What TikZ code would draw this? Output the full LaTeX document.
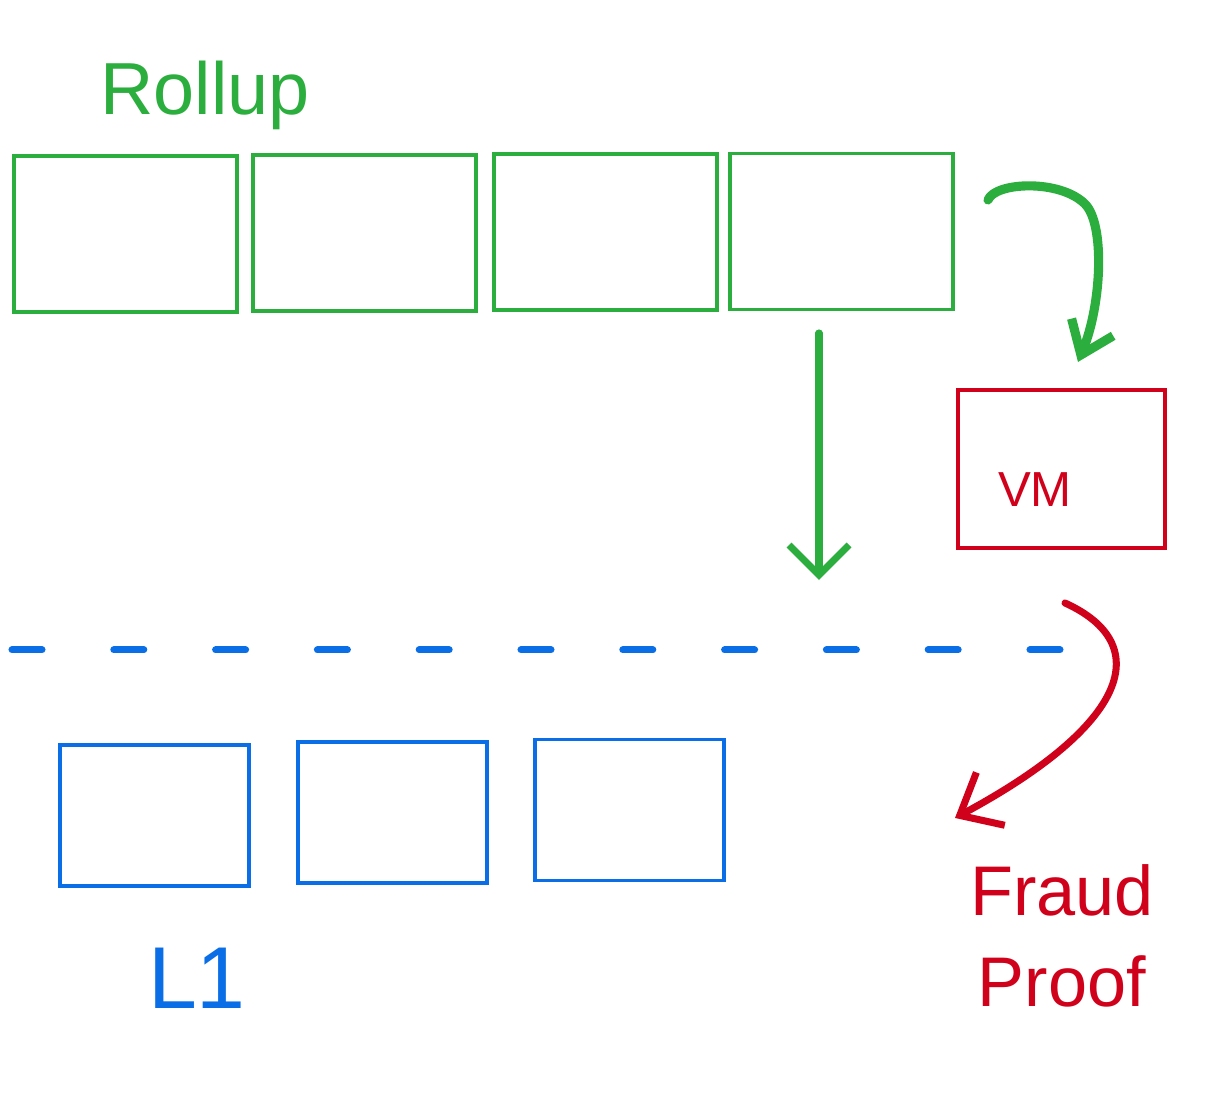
\documentclass[tikz,border=0pt]{standalone}
\usepackage{fontspec}
\setmainfont{Liberation Sans}
\usepackage{tikz}
\usetikzlibrary{arrows.meta}
\definecolor{rollupgreen}{RGB}{43,174,61}
\definecolor{layerblue}{RGB}{10,110,230}
\definecolor{fraudred}{RGB}{208,2,27}
\tikzset{
    rollupblock/.style={draw=rollupgreen, line width=0.9pt, minimum width=2.23cm, minimum height=1.56cm, inner sep=0pt},
    lblock/.style={draw=layerblue, line width=0.9pt, minimum width=1.89cm, minimum height=1.41cm, inner sep=0pt},
    vmbox/.style={draw=fraudred, line width=0.9pt, minimum width=2.07cm, minimum height=1.58cm, inner sep=0pt},
    flowarrow/.style={line width=2pt, line cap=round, line join=round, -{Straight Barb[length=3mm, width=6mm]}},
    handlabel/.style={inner sep=0pt, align=center}
}

\begin{document}
\begin{tikzpicture}
            \useasboundingbox (0,0) rectangle (12.17,11.04);
            % rollup chain
            \node[rollupblock] (r1) at (1.255,8.70) {};
            \node[rollupblock] (r2) at (3.645,8.71) {};
            \node[rollupblock] (r3) at (6.055,8.72) {};
            \node[rollupblock] (r4) at (8.415,8.725) {};
            \node[handlabel, text=rollupgreen, font=\fontsize{21}{24}\selectfont] (rollup) at (2.05,10.09) {Rollup};

            % virtual machine
            \node[vmbox] (vm) at (10.615,6.35) {};
            \node[handlabel, text=fraudred, font=\fontsize{14}{16}\selectfont] (vmlabel) at (10.35,6.14) {VM};

            % L1 chain
            \node[lblock] (l1) at (1.545,2.885) {};
            \node[lblock] (l2) at (3.925,2.915) {};
            \node[lblock] (l3) at (6.295,2.94) {};
            \node[handlabel, text=layerblue, font=\fontsize{25}{28}\selectfont] (lone) at (1.97,1.26) {L1};

            % boundary between rollup and L1
            \coordinate (dashstart) at (0.12,4.54);
            \coordinate (dashend) at (10.60,4.54);
            \draw[layerblue, line width=2pt, line cap=round, dash pattern=on 0.3cm off 0.718cm] (dashstart) -- (dashend);

            % rollup to L1 and VM
            \coordinate (downstart) at (8.19,7.71);
            \coordinate (downend) at (8.19,5.24);
            \draw[flowarrow, rollupgreen] (downstart) -- (downend);
            \coordinate (execstart) at (9.88,9.04);
            \coordinate (execend) at (10.78,7.42);
            \draw[flowarrow, rollupgreen, line width=2.6pt, -{Straight Barb[length=3mm, width=4.5mm]}]
                (execstart) .. controls (9.95,9.22) and (10.6,9.25) .. (10.85,9.0)
                .. controls (11.05,8.8) and (11.02,8.0) .. (execend);

            % fraud proof
            \coordinate (proofstart) at (10.65,5.01);
            \coordinate (proofend) at (9.55,2.86);
            \draw[flowarrow, fraudred, -{Straight Barb[length=3.5mm, width=6mm]}]
                (proofstart) .. controls (11.55,4.6) and (11.3,3.8) .. (proofend);
            \node[handlabel, text=fraudred, font=\fontsize{20}{26}\selectfont] (fraud) at (10.62,1.68) {Fraud\\Proof};
        \end{tikzpicture}
\end{document}
